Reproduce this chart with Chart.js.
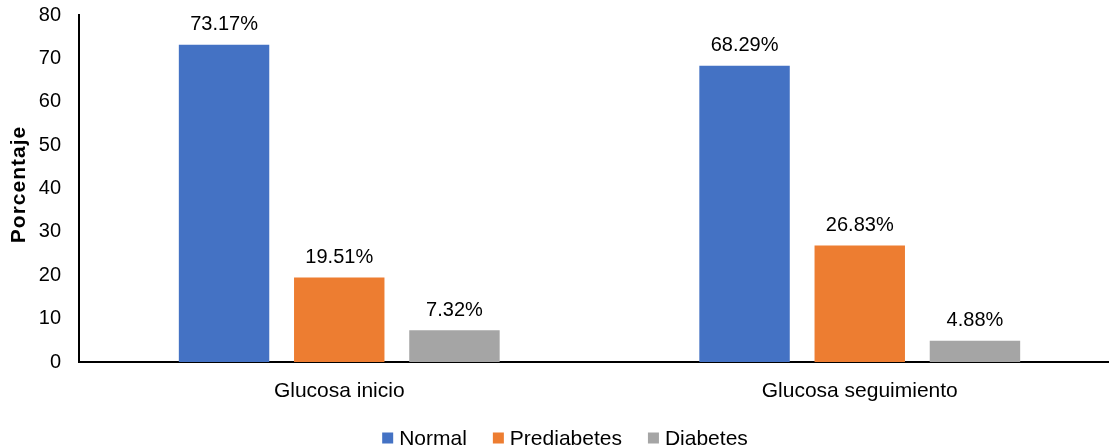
<!DOCTYPE html>
<html>
<head>
<meta charset="utf-8">
<script src="https://cdn.jsdelivr.net/npm/chart.js@4"></script>
<style>
  html, body { margin: 0; padding: 0; background: #fff; overflow: hidden; }
  #wrap { width: 1120px; height: 448px; }
</style>
</head>
<body>
<div id="wrap"><canvas id="c" width="1120" height="448"></canvas></div>
<script>
const categories = ['Glucosa inicio', 'Glucosa seguimiento'];
const normal = [73.17, 68.29];
const prediabetes = [19.51, 26.83];
const diabetes = [7.32, 4.88];
const seriesNames = ['Normal', 'Prediabetes', 'Diabetes'];
const seriesColors = ['#4472C4', '#ED7D31', '#A5A5A5'];
const yTicks = [0, 10, 20, 30, 40, 50, 60, 70, 80];
const yTitle = 'Porcentaje';

const FONT = 'Liberation Sans, Arial, sans-serif';

// Percent labels above each bar, the rotated y-axis title and the legend row
const annotate = {
  id: 'annotate',
  afterDatasetsDraw(chart) {
    const ctx = chart.ctx;
    ctx.save();
    ctx.font = '20px ' + FONT;
    ctx.fillStyle = '#000';
    ctx.textAlign = 'center';
    ctx.textBaseline = 'alphabetic';
    chart.data.datasets.forEach((ds, i) => {
      chart.getDatasetMeta(i).data.forEach((bar, j) => {
        ctx.fillText(ds.data[j].toFixed(2) + '%', bar.x, bar.y - 14.5);
      });
    });
    ctx.restore();

    const area = chart.chartArea;
    ctx.save();
    ctx.translate(19, (area.top + area.bottom) / 2 - 4);
    ctx.rotate(-Math.PI / 2);
    ctx.font = 'bold 21px ' + FONT;
    if ('letterSpacing' in ctx) ctx.letterSpacing = '1px';
    ctx.fillStyle = '#000';
    ctx.textAlign = 'center';
    ctx.textBaseline = 'middle';
    ctx.fillText(yTitle, 0, 0);
    ctx.restore();

    // legend: square, gap, name; items separated by a wider gap
    ctx.save();
    ctx.font = '21px ' + FONT;
    ctx.textBaseline = 'alphabetic';
    ctx.textAlign = 'left';
    const box = 11, gapIn = 6, gapOut = 26;
    const items = chart.data.datasets.map(ds => ({
      name: ds.label, color: ds.backgroundColor, w: ctx.measureText(ds.label).width
    }));
    const total = items.reduce((s, it) => s + box + gapIn + it.w, 0) + gapOut * (items.length - 1);
    let x = 565 - total / 2;
    const baseline = 445, boxTop = 432.5;
    items.forEach(it => {
      ctx.fillStyle = it.color;
      ctx.fillRect(x, boxTop, box, box);
      x += box + gapIn;
      ctx.fillStyle = '#000';
      ctx.fillText(it.name, x, baseline);
      x += it.w + gapOut;
    });
    ctx.restore();
  }
};

new Chart(document.getElementById('c'), {
  type: 'bar',
  data: {
    labels: categories,
    datasets: [
      { label: seriesNames[0], data: normal, backgroundColor: seriesColors[0] },
      { label: seriesNames[1], data: prediabetes, backgroundColor: seriesColors[1] },
      { label: seriesNames[2], data: diabetes, backgroundColor: seriesColors[2] }
    ]
  },
  options: {
    responsive: false,
    animation: false,
    datasets: { bar: { categoryPercentage: 0.664, barPercentage: 0.785 } },
    layout: { padding: { top: 15, left: 0, right: 0, bottom: 0 } },
    plugins: {
      legend: { display: false },
      tooltip: { enabled: false }
    },
    scales: {
      x: {
        afterFit(scale) { scale.height = 86; },
        grid: { display: false, drawTicks: false },
        border: { display: true, color: '#000', width: 2 },
        ticks: { font: { family: FONT, size: 21 }, color: '#000', padding: 17 }
      },
      y: {
        min: 0,
        max: 80,
        afterBuildTicks(scale) { scale.ticks = yTicks.map(v => ({ value: v })); },
        afterFit(scale) { scale.width = 79; scale.paddingTop = 0; scale.paddingBottom = 0; },
        grid: { display: false, drawTicks: false },
        border: { display: true, color: '#000', width: 2 },
        ticks: { font: { family: FONT, size: 20 }, color: '#000', padding: 18 }
      }
    }
  },
  plugins: [annotate]
});
</script>
</body>
</html>
